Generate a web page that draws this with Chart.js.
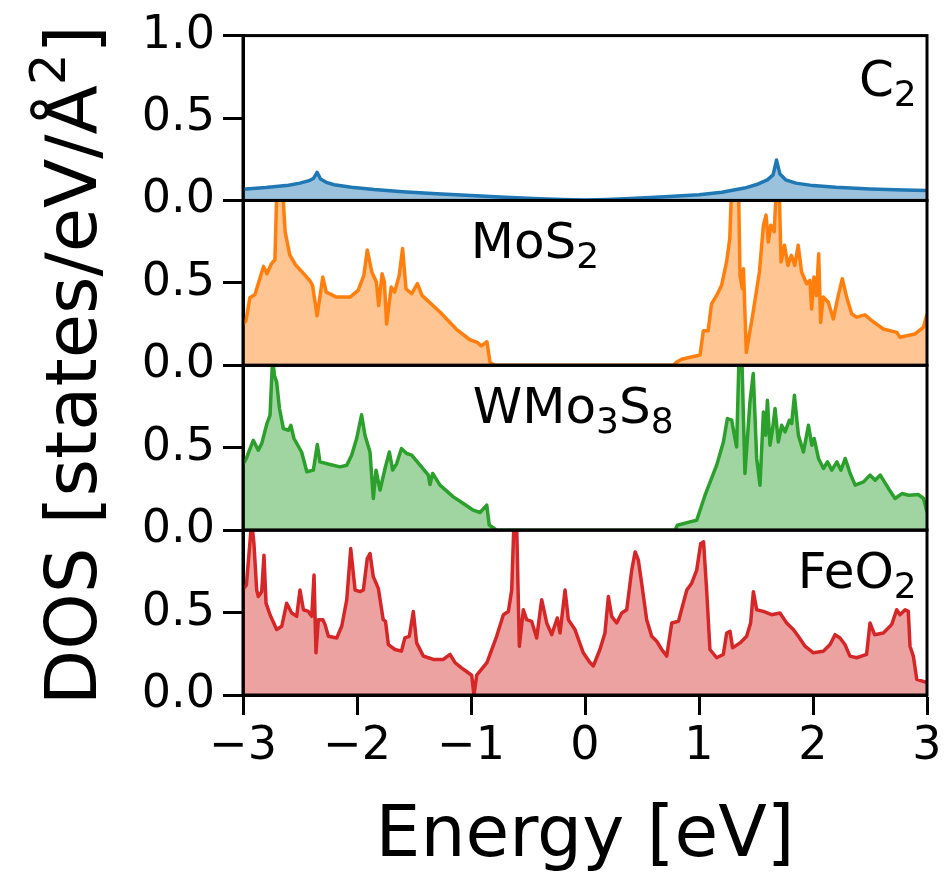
<!DOCTYPE html>
<html><head><meta charset="utf-8">
<script src="https://cdn.jsdelivr.net/npm/chart.js@4.4.1/dist/chart.umd.min.js"></script>
<style>html,body{margin:0;padding:0;background:#fff;}#wrap{width:948px;height:880px;}</style>
</head><body><div id="wrap"><canvas id="c" width="948" height="880"></canvas></div>
<script>
// ---------- data ----------
const xTicks = [-3, -2, -1, 0, 1, 2, 3];
const yTicks = [0, 0.5, 1.0];
const xTitle = 'Energy [eV]';
const yTitle = ['DOS [states/eV/Å', '2', ']'];

const energyC2 = [-3.0,-2.8,-2.6,-2.5,-2.42,-2.38,-2.35,-2.32,-2.27,-2.2,-2.05,-1.85,-1.6,-1.3,-1.0,-0.7,-0.4,-0.2,0.0,0.2,0.4,0.7,1.0,1.2,1.4,1.52,1.6,1.65,1.68,1.71,1.76,1.85,2.0,2.2,2.5,2.8,3.0];
const dosC2 = [0.068,0.078,0.092,0.105,0.12,0.135,0.17,0.13,0.11,0.095,0.08,0.066,0.053,0.04,0.03,0.02,0.011,0.006,0.003,0.006,0.012,0.022,0.035,0.05,0.075,0.1,0.125,0.155,0.245,0.16,0.125,0.105,0.09,0.08,0.07,0.064,0.06];

const energyMoS2 = [-3.0,-2.974,-2.94,-2.895,-2.82,-2.79,-2.75,-2.72,-2.70,-2.66,-2.63,-2.59,-2.54,-2.48,-2.41,-2.39,-2.35,-2.30,-2.27,-2.18,-2.06,-1.99,-1.94,-1.91,-1.87,-1.83,-1.81,-1.78,-1.76,-1.74,-1.70,-1.67,-1.63,-1.60,-1.57,-1.52,-1.47,-1.43,-1.27,-1.13,-1.01,-0.945,-0.91,-0.86,-0.833,-0.79,0.0,0.78,0.798,0.848,1.009,1.038,1.08,1.11,1.155,1.198,1.242,1.27,1.29,1.345,1.36,1.38,1.39,1.415,1.47,1.53,1.565,1.588,1.608,1.63,1.66,1.683,1.70,1.72,1.75,1.78,1.81,1.84,1.87,1.90,1.944,1.973,1.988,2.008,2.03,2.05,2.067,2.09,2.134,2.178,2.222,2.257,2.295,2.339,2.383,2.456,2.515,2.617,2.734,2.763,2.895,2.968,3.0];
const dosMoS2 = [0.25,0.27,0.41,0.43,0.60,0.555,0.617,0.64,1.15,1.15,0.81,0.67,0.61,0.565,0.51,0.485,0.30,0.535,0.444,0.414,0.414,0.454,0.545,0.70,0.566,0.505,0.363,0.555,0.505,0.25,0.475,0.444,0.545,0.708,0.464,0.434,0.495,0.424,0.322,0.22,0.155,0.139,0.118,0.143,0.017,0,0,0,0.017,0.037,0.062,0.21,0.21,0.373,0.424,0.485,0.627,0.77,1.15,1.15,0.545,0.464,0.586,0.078,0.302,0.566,0.85,0.911,0.748,0.85,0.81,1.15,1.15,0.627,0.728,0.606,0.667,0.606,0.728,0.566,0.495,0.515,0.342,0.535,0.424,0.677,0.26,0.414,0.383,0.281,0.424,0.525,0.414,0.312,0.292,0.306,0.271,0.22,0.2,0.17,0.19,0.23,0.312];

const energyWMo3S8 = [-3.0,-2.97,-2.95,-2.91,-2.866,-2.836,-2.79,-2.763,-2.74,-2.725,-2.705,-2.68,-2.646,-2.60,-2.58,-2.553,-2.486,-2.44,-2.383,-2.348,-2.325,-2.236,-2.149,-2.09,-2.047,-2.003,-1.96,-1.93,-1.886,-1.857,-1.833,-1.798,-1.754,-1.716,-1.687,-1.652,-1.61,-1.564,-1.52,-1.447,-1.374,-1.36,-1.336,-1.272,-1.155,-1.067,-0.98,-0.921,-0.862,-0.84,-0.775,0.0,0.79,0.81,0.92,0.98,1.053,1.155,1.214,1.249,1.287,1.31,1.33,1.353,1.374,1.403,1.447,1.476,1.506,1.535,1.565,1.585,1.60,1.623,1.646,1.667,1.696,1.725,1.755,1.793,1.813,1.837,1.872,1.916,1.96,1.99,2.01,2.048,2.092,2.127,2.165,2.21,2.245,2.283,2.326,2.37,2.443,2.50,2.545,2.59,2.662,2.72,2.78,2.838,2.925,2.97,3.0];
const dosWMo3S8 = [0.40,0.435,0.474,0.545,0.485,0.525,0.647,0.697,1.05,0.94,0.899,0.738,0.616,0.606,0.636,0.556,0.474,0.354,0.364,0.52,0.414,0.398,0.384,0.394,0.455,0.556,0.70,0.576,0.474,0.192,0.364,0.243,0.374,0.474,0.364,0.404,0.495,0.465,0.455,0.394,0.334,0.277,0.344,0.273,0.202,0.162,0.121,0.107,0.152,0.031,0,0,0,0.03,0.05,0.06,0.212,0.394,0.535,0.677,0.667,0.576,0.505,1.1,1.1,0.344,0.778,0.95,0.435,0.273,0.717,0.576,0.788,0.515,0.616,0.738,0.535,0.636,0.596,0.667,0.647,0.818,0.576,0.474,0.636,0.515,0.556,0.435,0.374,0.414,0.364,0.414,0.364,0.435,0.344,0.273,0.293,0.334,0.303,0.334,0.253,0.192,0.222,0.212,0.216,0.192,0.11];

const energyFeO2 = [-3.0,-2.97,-2.962,-2.924,-2.904,-2.88,-2.866,-2.836,-2.816,-2.798,-2.763,-2.705,-2.66,-2.617,-2.573,-2.529,-2.50,-2.47,-2.427,-2.397,-2.377,-2.36,-2.339,-2.30,-2.28,-2.251,-2.178,-2.134,-2.09,-2.055,-2.017,-1.974,-1.944,-1.91,-1.886,-1.857,-1.813,-1.77,-1.75,-1.725,-1.667,-1.61,-1.58,-1.541,-1.506,-1.477,-1.418,-1.374,-1.33,-1.243,-1.184,-1.14,-1.067,-0.994,-0.974,-0.95,-0.86,-0.775,-0.716,-0.672,-0.643,-0.623,-0.60,-0.576,-0.541,-0.512,-0.468,-0.424,-0.38,-0.336,-0.292,-0.243,-0.219,-0.175,-0.146,-0.088,-0.015,0.04,0.073,0.131,0.175,0.205,0.234,0.278,0.322,0.366,0.41,0.44,0.468,0.497,0.541,0.585,0.629,0.673,0.717,0.761,0.82,0.893,0.936,0.98,1.015,1.04,1.067,1.096,1.155,1.213,1.243,1.272,1.295,1.36,1.418,1.453,1.477,1.506,1.564,1.637,1.71,1.769,1.827,1.871,1.93,2.003,2.09,2.15,2.193,2.237,2.28,2.324,2.383,2.47,2.5,2.54,2.617,2.69,2.734,2.763,2.808,2.836,2.851,2.88,2.91,3.0];
const dosFeO2 = [0.64,0.668,0.737,1.05,0.919,0.637,0.597,0.627,0.848,0.557,0.487,0.397,0.417,0.557,0.497,0.477,0.637,0.517,0.507,0.477,0.728,0.256,0.457,0.457,0.427,0.356,0.346,0.417,0.577,0.888,0.637,0.627,0.637,0.828,0.858,0.718,0.647,0.457,0.447,0.306,0.276,0.266,0.346,0.356,0.507,0.316,0.236,0.226,0.216,0.216,0.246,0.196,0.156,0.12,0.0,0.12,0.196,0.356,0.487,0.507,0.637,1.05,1.05,0.296,0.517,0.457,0.447,0.346,0.578,0.437,0.366,0.467,0.376,0.637,0.457,0.397,0.256,0.2,0.176,0.276,0.376,0.597,0.477,0.437,0.497,0.517,0.758,0.868,0.818,0.678,0.457,0.356,0.326,0.276,0.236,0.437,0.447,0.637,0.678,0.758,0.919,0.929,0.637,0.276,0.226,0.246,0.376,0.386,0.286,0.316,0.356,0.437,0.627,0.517,0.507,0.487,0.497,0.437,0.397,0.356,0.296,0.256,0.266,0.306,0.366,0.346,0.306,0.236,0.226,0.246,0.437,0.366,0.376,0.427,0.517,0.487,0.517,0.507,0.296,0.236,0.095,0.075];

const seriesNames = ['C2', 'MoS2', 'WMo3S8', 'FeO2'];
const seriesEnergy = [energyC2, energyMoS2, energyWMo3S8, energyFeO2];
const seriesDos = [dosC2, dosMoS2, dosWMo3S8, dosFeO2];
// label pieces: [text, 'base' | 'sub']
const panelLabels = [
  [['C','base'],['2','sub']],
  [['MoS','base'],['2','sub']],
  [['WMo','base'],['3','sub'],['S','base'],['8','sub']],
  [['FeO','base'],['2','sub']]
];

// ---------- styles ----------
const FONT = '"DejaVu Sans"';
const lineColors = ['#1f77b4', '#ff7f0e', '#2ca02c', '#d62728'];
const fillColors = ['rgba(31,119,180,0.45)', 'rgba(255,127,14,0.45)', 'rgba(44,160,44,0.45)', 'rgba(214,39,40,0.43)'];
const labelPlace = [
  {align: 'right', fx: 0.985, dy: 60},
  {align: 'left', fx: 0.333, dy: 58},
  {align: 'left', fx: 0.336, dy: 58},
  {align: 'right', fx: 0.985, dy: 58}
];

function richWidth(ctx, parts, base, sub) {
  let w = 0;
  for (const p of parts) {
    ctx.font = (p[1] === 'base' ? base : sub) + 'px ' + FONT;
    w += ctx.measureText(p[0]).width;
  }
  return w;
}
function drawRich(ctx, parts, x, y, align, base, sub, shift) {
  const w = richWidth(ctx, parts, base, sub);
  let cx = align === 'right' ? x - w : (align === 'center' ? x - w / 2 : x);
  ctx.textAlign = 'left';
  ctx.textBaseline = 'alphabetic';
  for (const p of parts) {
    const isBase = p[1] === 'base';
    ctx.font = (isBase ? base : sub) + 'px ' + FONT;
    ctx.fillText(p[0], cx, y + (isBase ? 0 : shift));
    cx += ctx.measureText(p[0]).width;
  }
}

function applyClip(chart, meta) {
  const s = chart.scales[meta.yAxisID];
  const a = chart.chartArea;
  const ctx = chart.ctx;
  ctx.save();
  ctx.beginPath();
  ctx.rect(a.left, s.top, a.right - a.left, s.bottom - s.top);
  ctx.clip();
}
const panelClip = {
  id: 'panelClip',
  beforeDatasetsDraw(chart) {
    const metas = chart.getSortedVisibleDatasetMetas();
    if (metas.length) applyClip(chart, metas[metas.length - 1]);
  },
  afterDatasetDraw(chart, args) {
    const metas = chart.getSortedVisibleDatasetMetas();
    const pos = metas.indexOf(args.meta);
    chart.ctx.restore();
    if (pos > 0) applyClip(chart, metas[pos - 1]);
  }
};
const frames = {
  id: 'frames',
  afterDatasetsDraw(chart) {
    const ctx = chart.ctx, a = chart.chartArea;
    ctx.save();
    ctx.strokeStyle = '#000';
    ctx.lineWidth = 3;
    seriesNames.forEach((n, i) => {
      const s = chart.scales['y' + i];
      ctx.strokeRect(a.left, s.top, a.right - a.left, s.bottom - s.top);
    });
    ctx.restore();
  },
  afterDraw(chart) {
    const ctx = chart.ctx, a = chart.chartArea;
    ctx.save();
    ctx.fillStyle = '#000';
    panelLabels.forEach((parts, i) => {
      const s = chart.scales['y' + i];
      const pl = labelPlace[i];
      const x = a.left + pl.fx * (a.right - a.left);
      drawRich(ctx, parts, x, s.top + pl.dy, pl.align, 50, 36, 10);
    });
    // y title
    ctx.translate(96, (a.top + a.bottom) / 2);
    ctx.rotate(-Math.PI / 2);
    const parts = [[yTitle[0], 'base'], [yTitle[1], 'sub'], [yTitle[2], 'base']];
    drawRich(ctx, parts, 0, 0, 'center', 72, 50, -31);
    ctx.restore();
  }
};

function yScale(i) {
  return {
    type: 'linear', position: 'left', stack: 'dos', stackWeight: 1, weight: 10 - i,
    min: 0, max: 1,
    afterFit: s => { s.width = 243; },
    afterBuildTicks: s => { s.ticks = yTicks.map(v => ({value: v})); },
    ticks: {
      font: {family: FONT, size: 46}, color: '#000', padding: 8, autoSkip: false,
      callback: v => (i > 0 && v === 1) ? '' : v.toFixed(1)
    },
    grid: {drawOnChartArea: false, drawTicks: true, tickLength: 20, tickWidth: 3, tickColor: '#000', color: '#000'},
    border: {display: true, color: '#000', width: 3}
  };
}

const scales = {
  x: {
    type: 'linear', position: 'bottom', min: -3, max: 3,
    afterFit: s => { s.height = 185; },
    afterBuildTicks: s => { s.ticks = xTicks.map(v => ({value: v})); },
    ticks: {
      font: {family: FONT, size: 46}, color: '#000', padding: 4, autoSkip: false, maxRotation: 0, minRotation: 0,
      callback: v => v < 0 ? '\u2212' + Math.abs(v) : String(v)
    },
    grid: {drawOnChartArea: false, drawTicks: true, tickLength: 20, tickWidth: 3, tickColor: '#000', color: '#000'},
    border: {display: true, color: '#000', width: 3},
    title: {display: true, text: xTitle, font: {family: FONT, size: 71}, color: '#000', padding: {top: 0, bottom: 0}}
  }
};
seriesNames.forEach((n, i) => { scales['y' + i] = yScale(i); });

const datasets = seriesNames.map((n, i) => ({
  label: n,
  data: seriesEnergy[i].map((e, k) => ({x: e, y: seriesDos[i][k]})),
  xAxisID: 'x', yAxisID: 'y' + i,
  borderColor: lineColors[i], backgroundColor: fillColors[i],
  borderWidth: 3.5, pointRadius: 0, pointHoverRadius: 0, tension: 0,
  fill: 'origin', borderJoinStyle: 'round'
}));

new Chart(document.getElementById('c'), {
  type: 'line',
  data: {datasets},
  options: {
    responsive: false, animation: false, events: [],
    layout: {padding: {left: 0, right: 21, top: 28, bottom: 0}},
    plugins: {legend: {display: false}, tooltip: {enabled: false}},
    scales
  },
  plugins: [panelClip, frames]
});
</script></body></html>
